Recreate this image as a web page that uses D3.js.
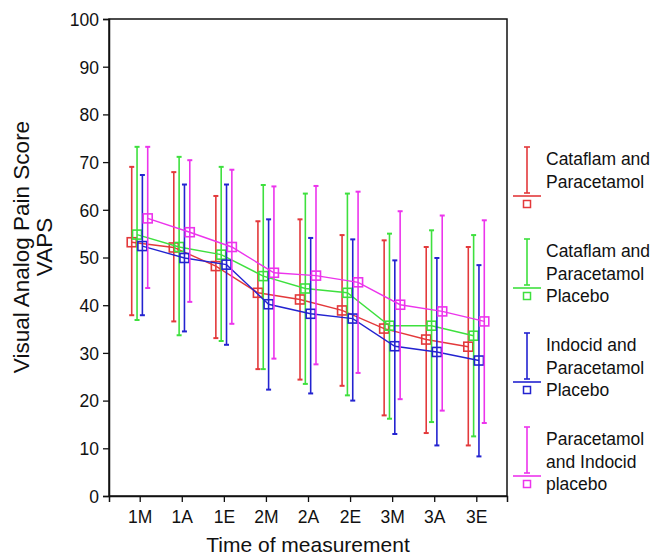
<!DOCTYPE html>
<html>
<head>
<meta charset="utf-8">
<script src="https://cdn.jsdelivr.net/npm/d3@7"></script>
<style>
  body { margin: 0; background: #fff; }
  text { font-family: Arial, "Liberation Sans", sans-serif; fill: #111; }
</style>
</head>
<body>
<div class="canvas"></div>
<script>
// data
const times = ['1M', '1A', '1E', '2M', '2A', '2E', '3M', '3A', '3E'];
const yTicks = [0, 10, 20, 30, 40, 50, 60, 70, 80, 90, 100];

const groupNames = ['Cataflam and Paracetamol', 'Cataflam and Paracetamol Placebo',
    'Indocid and Paracetamol Placebo', 'Paracetamol and Indocid placebo'];
const legendLines = [
    ['Cataflam and', 'Paracetamol'],
    ['Cataflam and', 'Paracetamol', 'Placebo'],
    ['Indocid and', 'Paracetamol', 'Placebo'],
    ['Paracetamol', 'and Indocid', 'placebo']
];
const colors = ['#e3393b', '#3ee03e', '#2323d0', '#ec34ec'];

const cataMean = [53.2, 52.1, 48.2, 42.6, 41.2, 38.9, 35.1, 32.8, 31.3];
const cataHigh = [69.0, 67.9, 62.9, 57.6, 58.0, 54.7, 53.6, 52.2, 52.2];
const cataLow  = [37.9, 36.6, 33.1, 26.6, 24.4, 23.1, 16.9, 13.2, 10.6];

const cataPlMean = [54.8, 52.2, 50.6, 46.1, 43.5, 42.6, 35.7, 35.7, 33.6];
const cataPlHigh = [73.2, 71.1, 69.0, 65.2, 63.4, 63.4, 55.0, 55.7, 54.7];
const cataPlLow  = [36.9, 33.7, 32.5, 26.6, 23.5, 21.1, 16.2, 15.5, 12.5];

const indoMean = [52.4, 49.9, 48.5, 40.2, 38.2, 37.2, 31.4, 30.2, 28.4];
const indoHigh = [67.3, 65.3, 65.3, 58.0, 54.1, 53.8, 49.4, 49.9, 48.4];
const indoLow  = [37.9, 34.5, 31.7, 22.3, 21.5, 20.0, 13.0, 10.6, 8.3];

const paraMean = [58.2, 55.3, 52.2, 46.8, 46.2, 44.8, 40.1, 38.7, 36.6];
const paraHigh = [73.2, 70.4, 68.4, 64.9, 65.0, 63.8, 59.7, 58.8, 57.8];
const paraLow  = [43.6, 40.7, 36.1, 28.8, 27.6, 25.8, 20.3, 17.9, 15.3];

const series = [
    { name: groupNames[0], mean: cataMean, high: cataHigh, low: cataLow },
    { name: groupNames[1], mean: cataPlMean, high: cataPlHigh, low: cataPlLow },
    { name: groupNames[2], mean: indoMean, high: indoHigh, low: indoLow },
    { name: groupNames[3], mean: paraMean, high: paraHigh, low: paraLow }
];

const svg = d3.select('.canvas')
    .append('svg')
    .attr('width', 655)
    .attr('height', 555);

// margins and dimensions
const margin = { top: 19, right: 148, bottom: 59, left: 109 };
const graphWidth = 655 - margin.left - margin.right;
const graphHeight = 555 - margin.top - margin.bottom;

const graph = svg.append('g')
    .attr('transform', `translate(${margin.left}, ${margin.top})`);

// scales
const x = d3.scalePoint()
    .domain(times)
    .range([0, graphWidth])
    .padding(0.73);

const offset = d3.scalePoint()
    .domain(groupNames)
    .range([-8, 8]);

const y = d3.scaleLinear()
    .domain([0, 100])
    .range([graphHeight, 0]);

const color = d3.scaleOrdinal()
    .domain(groupNames)
    .range(colors);

// frame
graph.append('rect')
    .attr('width', graphWidth)
    .attr('height', graphHeight)
    .attr('fill', 'none')
    .attr('stroke', '#111')
    .attr('stroke-width', 1.5);

// axes
const xAxisGroup = graph.append('g')
    .attr('transform', `translate(0, ${graphHeight})`)
    .call(d3.axisBottom(x).tickSize(6).tickPadding(9));
const yAxisGroup = graph.append('g')
    .call(d3.axisLeft(y).tickValues(yTicks).tickSize(6).tickPadding(4));

[xAxisGroup, yAxisGroup].forEach(g => {
    g.select('.domain').attr('stroke', '#111').attr('stroke-width', 1.5);
    g.selectAll('.tick line').attr('stroke', '#111').attr('stroke-width', 1.3);
    g.selectAll('text')
        .attr('font-size', 17.5)
        .attr('font-family', 'Arial, "Liberation Sans", sans-serif')
        .attr('fill', '#111');
});
yAxisGroup.selectAll('text').attr('dy', '0.36em');

// axis titles
svg.append('text')
    .attr('x', margin.left + graphWidth / 2)
    .attr('y', 552)
    .attr('text-anchor', 'middle')
    .attr('font-size', 21)
    .text('Time of measurement');

const yTitle = svg.append('text')
    .attr('transform', 'translate(29, 247) rotate(-90)')
    .attr('text-anchor', 'middle')
    .attr('font-size', 22.5);
yTitle.append('tspan').attr('x', 0).attr('dy', 0).text('Visual Analog Pain Score');
yTitle.append('tspan').attr('x', 0).attr('dy', 23).text('VAPS');

// series
const capW = 5;
const boxS = 9;

series.forEach(s => {
    const c = color(s.name);
    const px = (d, i) => x(times[i]) + offset(s.name);
    const g = graph.append('g');

    const line = d3.line()
        .x((d, i) => px(d, i))
        .y(d => y(d));

    g.append('path')
        .datum(s.mean)
        .attr('d', line)
        .attr('fill', 'none')
        .attr('stroke', c)
        .attr('stroke-width', 1.4);

    const bars = g.selectAll('.err')
        .data(s.mean)
        .enter()
        .append('g');

    bars.append('line')
        .attr('x1', px).attr('x2', px)
        .attr('y1', (d, i) => y(s.high[i]))
        .attr('y2', (d, i) => y(s.low[i]))
        .attr('stroke', c)
        .attr('stroke-width', 1.6);

    bars.append('line')
        .attr('x1', (d, i) => px(d, i) - capW / 2)
        .attr('x2', (d, i) => px(d, i) + capW / 2)
        .attr('y1', (d, i) => y(s.high[i]))
        .attr('y2', (d, i) => y(s.high[i]))
        .attr('stroke', c)
        .attr('stroke-width', 2);

    bars.append('line')
        .attr('x1', (d, i) => px(d, i) - capW / 2)
        .attr('x2', (d, i) => px(d, i) + capW / 2)
        .attr('y1', (d, i) => y(s.low[i]))
        .attr('y2', (d, i) => y(s.low[i]))
        .attr('stroke', c)
        .attr('stroke-width', 2);

    bars.append('rect')
        .attr('x', (d, i) => px(d, i) - boxS / 2)
        .attr('y', d => y(d) - boxS / 2)
        .attr('width', boxS)
        .attr('height', boxS)
        .attr('fill', 'none')
        .attr('stroke', c)
        .attr('stroke-width', 1.6);
});

// legend
const legendTop = [159, 251, 345, 439];
const lineH = 22.5;
const legend = svg.append('g');

groupNames.forEach((name, k) => {
    const c = color(name);
    const t = legendTop[k];
    const sq = t + lineH * 2;
    const lx = 527;
    const item = legend.append('g');

    item.append('line')
        .attr('x1', lx).attr('x2', lx)
        .attr('y1', t - 12).attr('y2', sq - 11)
        .attr('stroke', c).attr('stroke-width', 1.6);
    item.append('line')
        .attr('x1', lx - 3).attr('x2', lx + 3)
        .attr('y1', t - 12).attr('y2', t - 12)
        .attr('stroke', c).attr('stroke-width', 1.6);
    item.append('line')
        .attr('x1', lx - 3).attr('x2', lx + 3)
        .attr('y1', sq - 11).attr('y2', sq - 11)
        .attr('stroke', c).attr('stroke-width', 1.6);
    item.append('line')
        .attr('x1', 513).attr('x2', 541)
        .attr('y1', sq - 8).attr('y2', sq - 8)
        .attr('stroke', c).attr('stroke-width', 1.6);
    item.append('rect')
        .attr('x', lx - 3.5).attr('y', sq - 3.5)
        .attr('width', 7).attr('height', 7)
        .attr('fill', 'none')
        .attr('stroke', c).attr('stroke-width', 1.5);

    legendLines[k].forEach((txt, j) => {
        item.append('text')
            .attr('x', 546)
            .attr('y', t + j * lineH)
            .attr('dy', '0.36em')
            .attr('font-size', 17.5)
            .text(txt);
    });
});
</script>
</body>
</html>
